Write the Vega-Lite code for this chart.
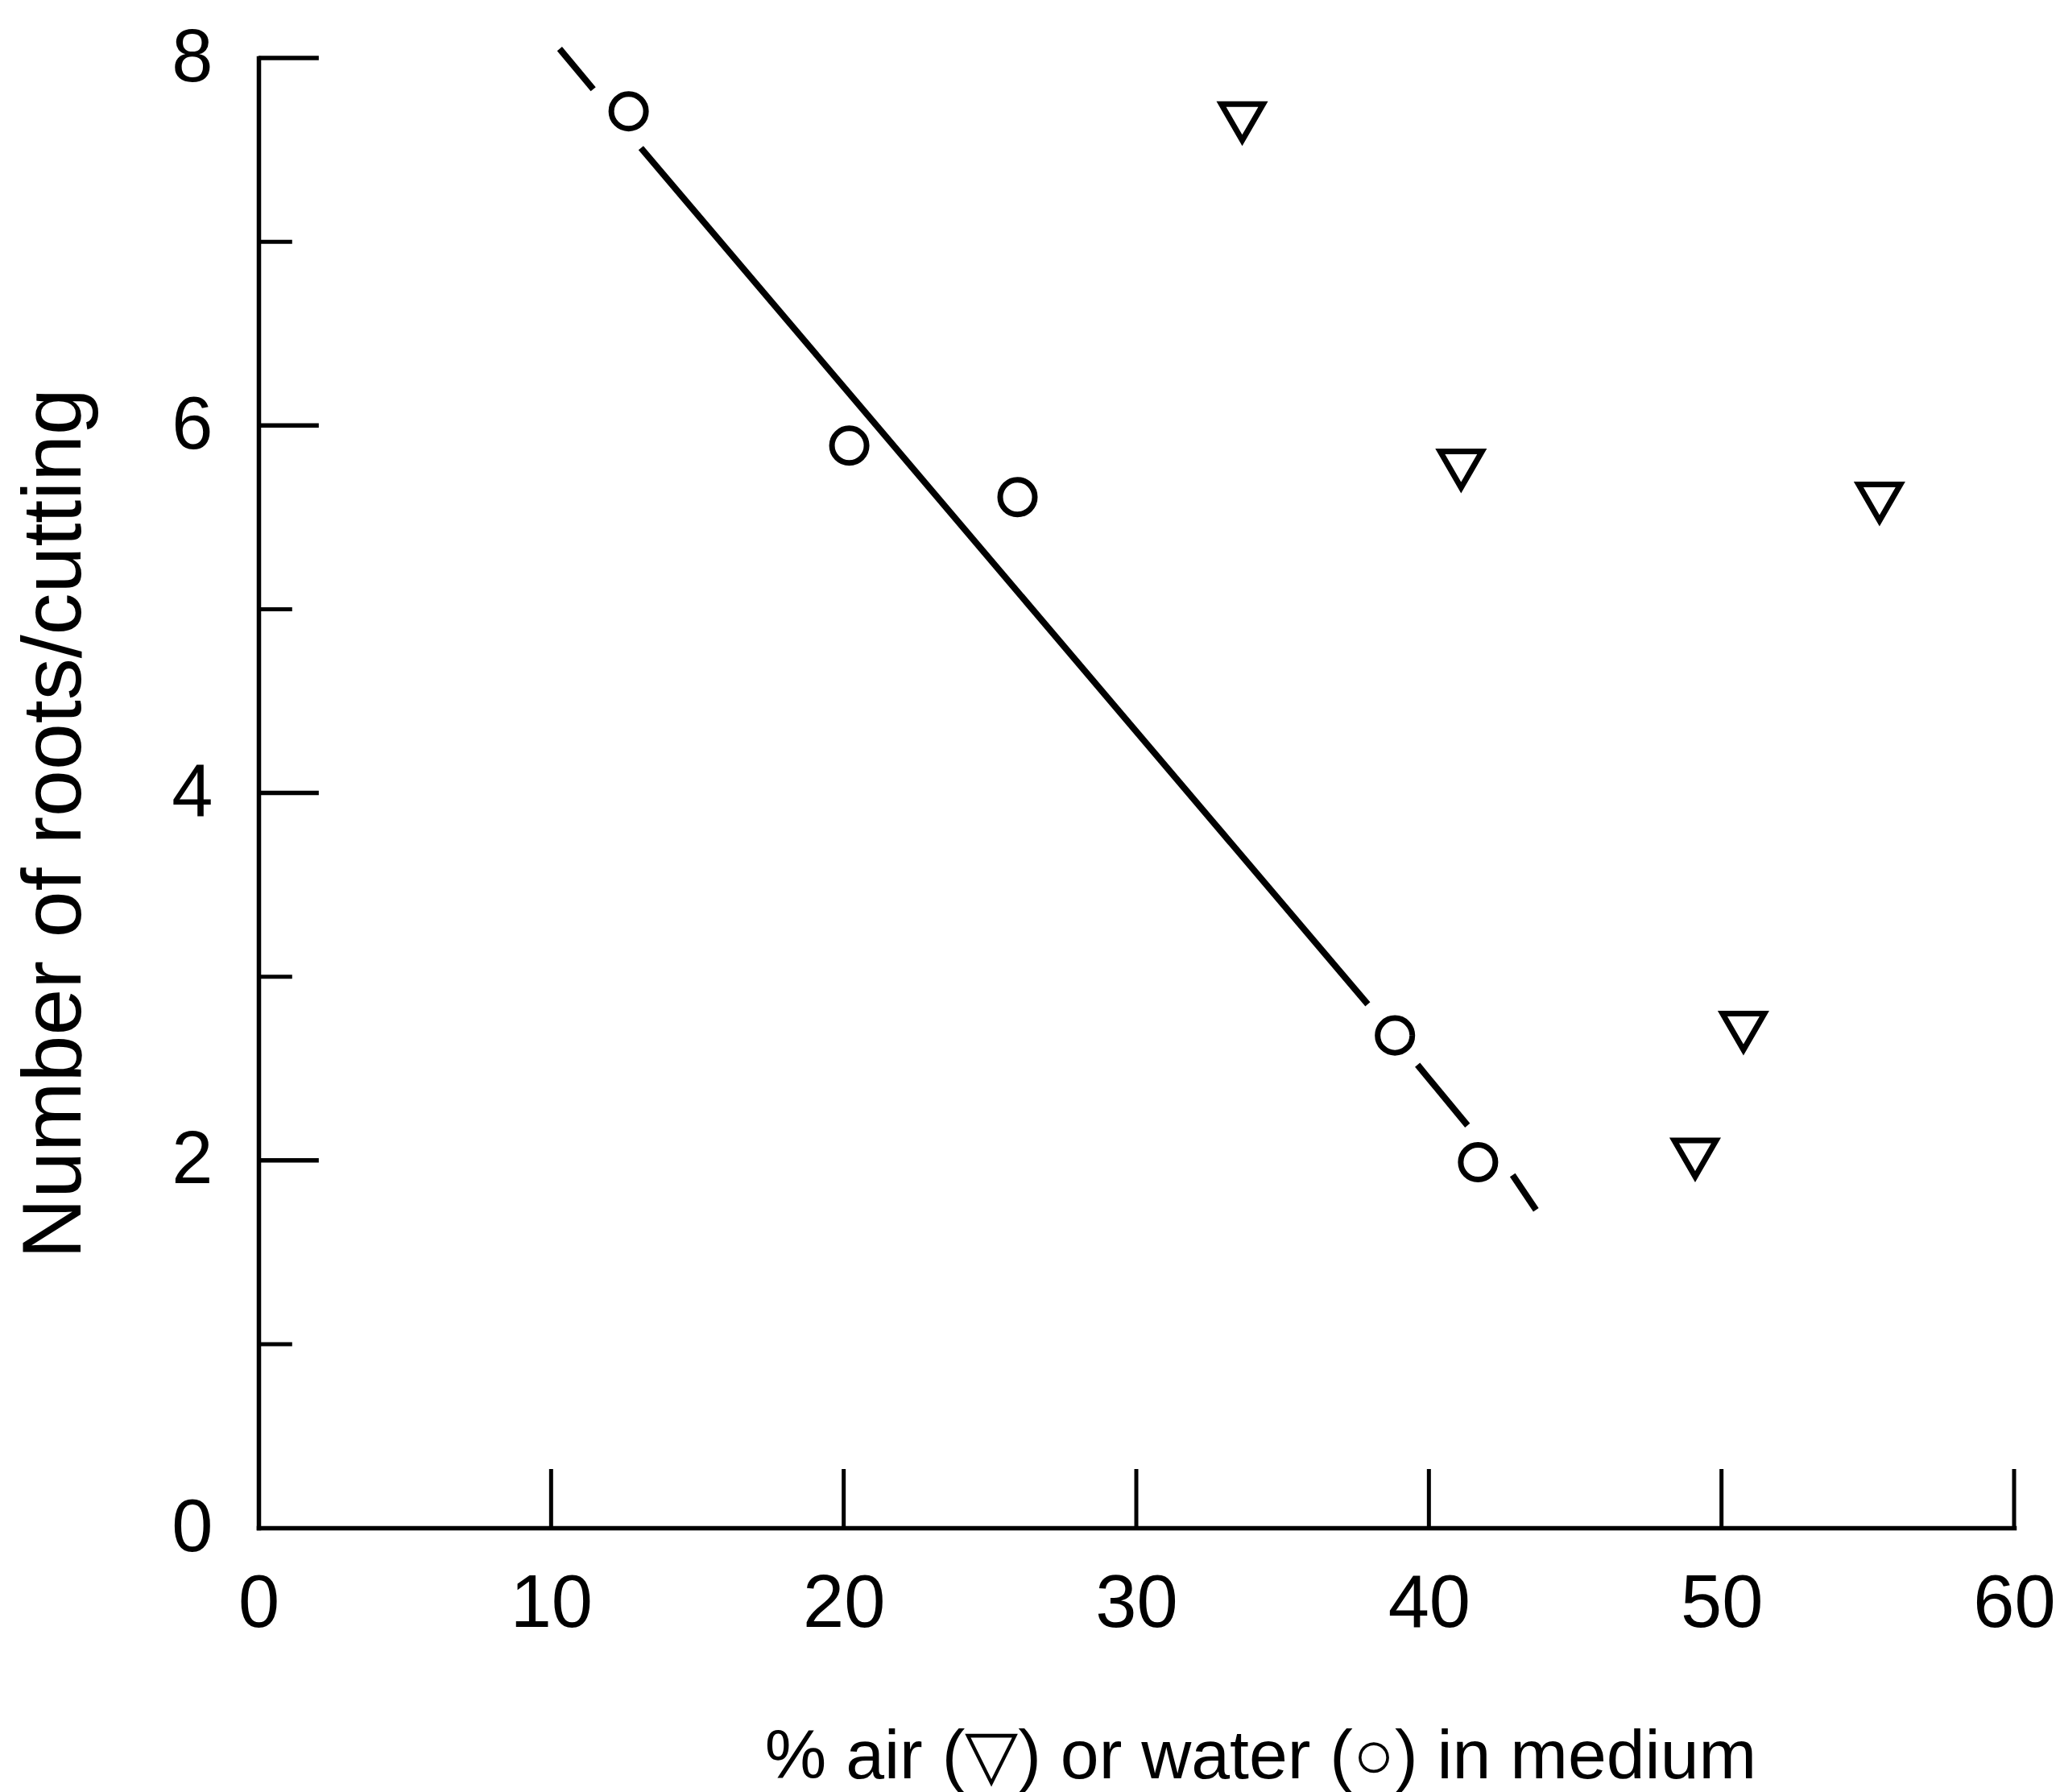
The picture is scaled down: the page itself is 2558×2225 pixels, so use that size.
{
  "$schema": "https://vega.github.io/schema/vega-lite/v6.json",
  "autosize": {"type": "none"},
  "padding": {"left": 321, "top": 72, "right": 57, "bottom": 328},
  "width": 2180,
  "height": 1825,
  "background": "white",
  "config": {
    "view": {"stroke": null},
    "font": "Liberation Sans",
    "axis": {
      "domainColor": "black",
      "domainWidth": 5.5,
      "domainCap": "square",
      "grid": false,
      "ticks": false,
      "tickSize": 0,
      "labelColor": "black",
      "titleColor": "black",
      "labelFont": "Liberation Sans",
      "titleFont": "Liberation Sans",
      "titleFontWeight": "normal",
      "labelFlush": false,
      "labelOverlap": false
    },
    "axisX": {
      "labelFontSize": 92,
      "labelBaseline": "alphabetic",
      "labelPadding": 122,
      "titleFontSize": 86,
      "titleX": 1244,
      "titleY": 310,
      "titleBaseline": "alphabetic",
      "titleAlign": "center"
    },
    "axisY": {
      "labelFontSize": 92,
      "labelAlign": "right",
      "labelBaseline": "middle",
      "labelPadding": 57,
      "titleFontSize": 104,
      "titleAngle": 270,
      "titleX": -222,
      "titleY": 950,
      "titleBaseline": "alphabetic",
      "titleAlign": "center"
    }
  },
  "datasets": {
    "points": [
      {"medium": "water", "pct": 12.65, "roots": 7.71},
      {"medium": "water", "pct": 20.19, "roots": 5.89},
      {"medium": "water", "pct": 25.94, "roots": 5.61},
      {"medium": "water", "pct": 38.84, "roots": 2.68},
      {"medium": "water", "pct": 41.68, "roots": 1.99},
      {"medium": "air", "pct": 33.62, "roots": 7.65},
      {"medium": "air", "pct": 41.1, "roots": 5.76},
      {"medium": "air", "pct": 55.4, "roots": 5.58},
      {"medium": "air", "pct": 50.75, "roots": 2.7},
      {"medium": "air", "pct": 49.1, "roots": 2.01}
    ],
    "fit": [
      {"seg": 1, "pct": 10.29, "roots": 8.05},
      {"seg": 1, "pct": 11.44, "roots": 7.83},
      {"seg": 2, "pct": 13.07, "roots": 7.51},
      {"seg": 2, "pct": 37.91, "roots": 2.85},
      {"seg": 3, "pct": 39.61, "roots": 2.52},
      {"seg": 3, "pct": 41.32, "roots": 2.19},
      {"seg": 4, "pct": 42.86, "roots": 1.92},
      {"seg": 4, "pct": 43.66, "roots": 1.73}
    ],
    "yMajor": [{"v": 2}, {"v": 4}, {"v": 6}, {"v": 8}],
    "yMinor": [{"v": 1}, {"v": 3}, {"v": 5}, {"v": 7}],
    "xTicks": [{"v": 10}, {"v": 20}, {"v": 30}, {"v": 40}, {"v": 50}, {"v": 60}]
  },
  "layer": [
    {
      "data": {"name": "yMajor"},
      "mark": {"type": "rule", "color": "black", "strokeWidth": 5.5},
      "encoding": {
        "y": {"field": "v", "type": "quantitative", "scale": {"domain": [0, 8], "nice": false, "zero": false},
              "axis": {"values": [0, 2, 4, 6, 8], "title": "Number of roots/cutting"}},
        "x": {"datum": 0, "type": "quantitative", "scale": {"domain": [0, 60], "nice": false, "zero": false},
              "axis": {"values": [0, 10, 20, 30, 40, 50, 60], "title": "% air (▽) or water (○) in medium"}},
        "x2": {"datum": 2.06}
      }
    },
    {
      "data": {"name": "yMinor"},
      "mark": {"type": "rule", "color": "black", "strokeWidth": 5},
      "encoding": {
        "y": {"field": "v", "type": "quantitative", "scale": {"domain": [0, 8], "nice": false, "zero": false},
              "axis": {"values": [0, 2, 4, 6, 8], "title": "Number of roots/cutting"}},
        "x": {"datum": 0, "type": "quantitative", "scale": {"domain": [0, 60], "nice": false, "zero": false},
              "axis": {"values": [0, 10, 20, 30, 40, 50, 60], "title": "% air (▽) or water (○) in medium"}},
        "x2": {"datum": 1.15}
      }
    },
    {
      "data": {"name": "xTicks"},
      "mark": {"type": "rule", "color": "black", "strokeWidth": 5},
      "encoding": {
        "x": {"field": "v", "type": "quantitative", "scale": {"domain": [0, 60], "nice": false, "zero": false},
              "axis": {"values": [0, 10, 20, 30, 40, 50, 60], "title": "% air (▽) or water (○) in medium"}},
        "y": {"datum": 0, "type": "quantitative", "scale": {"domain": [0, 8], "nice": false, "zero": false},
              "axis": {"values": [0, 2, 4, 6, 8], "title": "Number of roots/cutting"}},
        "y2": {"datum": 0.32}
      }
    },
    {
      "data": {"name": "fit"},
      "mark": {"type": "line", "color": "black", "strokeWidth": 8, "strokeCap": "butt"},
      "encoding": {
        "x": {"field": "pct", "type": "quantitative", "scale": {"domain": [0, 60], "nice": false, "zero": false},
              "axis": {"values": [0, 10, 20, 30, 40, 50, 60], "title": "% air (▽) or water (○) in medium"}},
        "y": {"field": "roots", "type": "quantitative", "scale": {"domain": [0, 8], "nice": false, "zero": false},
              "axis": {"values": [0, 2, 4, 6, 8], "title": "Number of roots/cutting"}},
        "detail": {"field": "seg", "type": "nominal"}
      }
    },
    {
      "data": {"name": "points"},
      "mark": {"type": "point", "filled": true, "fill": "white", "stroke": "black", "strokeWidth": 7, "opacity": 1},
      "encoding": {
        "x": {"field": "pct", "type": "quantitative", "scale": {"domain": [0, 60], "nice": false, "zero": false},
              "axis": {"values": [0, 10, 20, 30, 40, 50, 60], "title": "% air (▽) or water (○) in medium"}},
        "y": {"field": "roots", "type": "quantitative", "scale": {"domain": [0, 8], "nice": false, "zero": false},
              "axis": {"values": [0, 2, 4, 6, 8], "title": "Number of roots/cutting"}},
        "shape": {"field": "medium", "type": "nominal", "scale": {"domain": ["air", "water"], "range": ["triangle-down", "circle"]}, "legend": null},
        "size": {"field": "medium", "type": "ordinal", "scale": {"domain": ["air", "water"], "range": [2700, 1850]}, "legend": null}
      }
    }
  ]
}
